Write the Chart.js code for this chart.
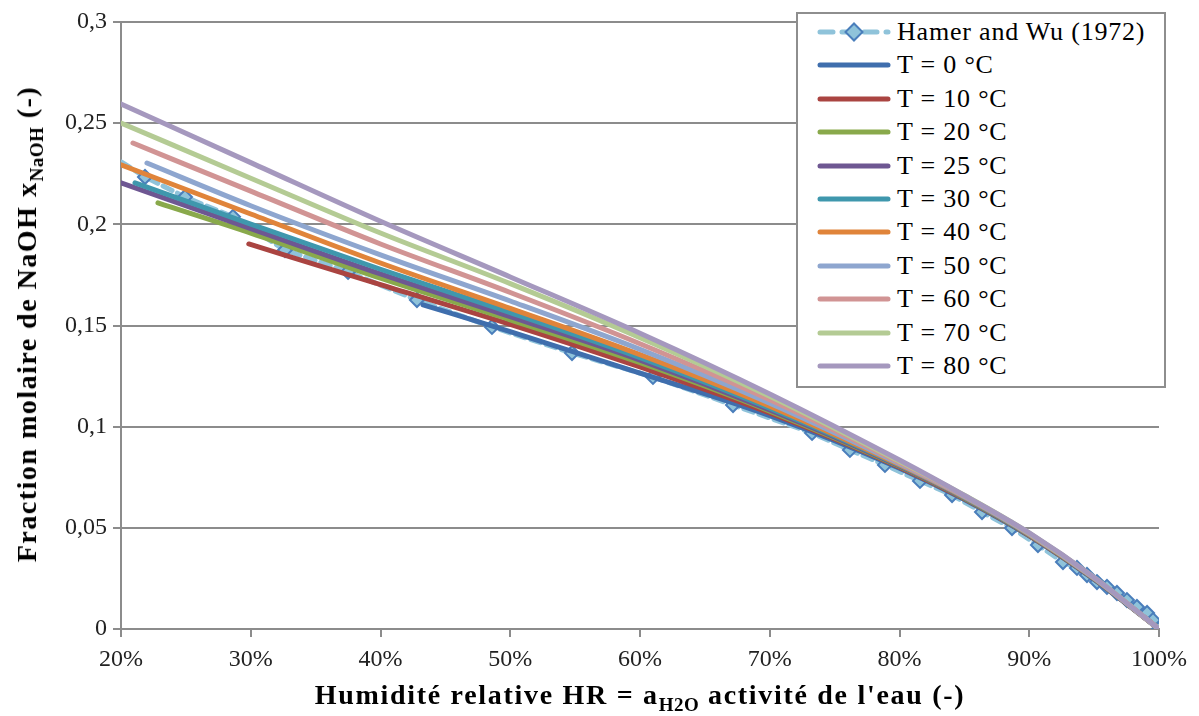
<!DOCTYPE html>
<html>
<head>
<meta charset="utf-8">
<script src="https://cdn.jsdelivr.net/npm/chart.js@4.4.1/dist/chart.umd.min.js"></script>
<style>
  html, body { margin: 0; padding: 0; background: #fff; }
  #wrap { position: relative; width: 1199px; height: 716px; }
  #chart { position: absolute; left: 0; top: 0; }
  .axis-title { position: absolute; font-family: "Liberation Serif", "DejaVu Serif", serif; font-weight: bold; font-size: 28px; color: #000; white-space: nowrap; }
  .axis-title sub { font-size: 19px; vertical-align: -7px; line-height: 0; letter-spacing: 0.5px; }
  #xtitle { left: 640px; top: 679px; transform: translateX(-50%); letter-spacing: 1.7px; }
  #ytitle { left: 27px; top: 324px; transform: translate(-50%, -50%) rotate(-90deg); letter-spacing: 1.5px; }
  #legend { position: absolute; left: 796px; top: 12px; width: 366px; height: 372px; border: 2px solid #8e8e8e; background: #fff;
            font-family: "Liberation Serif", "DejaVu Serif", serif; font-size: 26px; letter-spacing: 0.8px; color: #000; }
  #legend .row { position: absolute; left: 0; height: 30px; display: flex; align-items: center; white-space: nowrap; }
  #legend svg { margin-left: 19px; margin-right: 6px; }
</style>
</head>
<body>
<div id="wrap">
  <canvas id="chart" width="1199" height="716"></canvas>
  <div id="ytitle" class="axis-title">Fraction molaire de NaOH x<sub>NaOH</sub> (-)</div>
  <div id="xtitle" class="axis-title">Humidité relative HR = a<sub>H2O</sub> activité de l'eau (-)</div>
  <div id="legend"></div>
</div>
<script>
// Hamer and Wu (1972), 25 °C
const hamerX = [0.19, 0.2185, 0.2493, 0.2863, 0.3264, 0.375, 0.4281, 0.4859, 0.5476, 0.61, 0.6717, 0.7326, 0.7618, 0.7888, 0.8158, 0.8405, 0.8636, 0.8867, 0.9067, 0.926, 0.9368, 0.9445, 0.9522, 0.9599, 0.9676, 0.9753, 0.983, 0.9908, 0.9954, 1.0];
const hamerY = [0.235, 0.2234, 0.2135, 0.2037, 0.1873, 0.1765, 0.1626, 0.1493, 0.1364, 0.1246, 0.1107, 0.0969, 0.0885, 0.0811, 0.0732, 0.0662, 0.0578, 0.0499, 0.0415, 0.0331, 0.0302, 0.0267, 0.0232, 0.0208, 0.0178, 0.0143, 0.0109, 0.0079, 0.0044, 0];

// model curves (water activity -> mole fraction)
const t0X = [0.4328, 0.5, 0.6, 0.7, 0.8, 0.85, 0.9, 0.95, 1.0];
const t0Y = [0.1602, 0.147, 0.1265, 0.1055, 0.0795, 0.064, 0.046, 0.0245, 0];
const t10X = [0.2985, 0.4, 0.5, 0.6, 0.7, 0.8, 0.85, 0.9, 0.95, 1.0];
const t10Y = [0.1903, 0.1702, 0.1506, 0.1295, 0.1068, 0.08, 0.0643, 0.0462, 0.0247, 0];
const t20X = [0.2285, 0.3, 0.4, 0.5, 0.6, 0.7, 0.8, 0.85, 0.9, 0.95, 1.0];
const t20Y = [0.2106, 0.1957, 0.1734, 0.1528, 0.1316, 0.1077, 0.0803, 0.0646, 0.0464, 0.0248, 0];
const t25X = [0.2, 0.3, 0.4, 0.5, 0.6, 0.7, 0.8, 0.85, 0.9, 0.95, 1.0];
const t25Y = [0.2205, 0.1979, 0.1755, 0.1544, 0.1329, 0.1083, 0.0806, 0.0648, 0.0465, 0.0249, 0];
const t30X = [0.2108, 0.3, 0.4, 0.5, 0.6, 0.7, 0.8, 0.85, 0.9, 0.95, 1.0];
const t30Y = [0.2205, 0.2001, 0.1778, 0.1564, 0.1341, 0.1091, 0.0809, 0.065, 0.0466, 0.025, 0];
const t40X = [0.2, 0.3, 0.4, 0.5, 0.6, 0.7, 0.8, 0.85, 0.9, 0.95, 1.0];
const t40Y = [0.2294, 0.2051, 0.1809, 0.1585, 0.1356, 0.1101, 0.0812, 0.0652, 0.0468, 0.0251, 0];
const t50X = [0.22, 0.3, 0.4, 0.5, 0.6, 0.7, 0.8, 0.85, 0.9, 0.95, 1.0];
const t50Y = [0.2303, 0.2092, 0.1849, 0.1621, 0.1382, 0.1116, 0.0817, 0.0655, 0.047, 0.0252, 0];
const t60X = [0.2092, 0.3, 0.4, 0.5, 0.6, 0.7, 0.8, 0.85, 0.9, 0.95, 1.0];
const t60Y = [0.2402, 0.2164, 0.1903, 0.1663, 0.141, 0.1133, 0.0823, 0.0658, 0.0472, 0.0253, 0];
const t70X = [0.2, 0.3, 0.4, 0.5, 0.6, 0.7, 0.8, 0.85, 0.9, 0.95, 1.0];
const t70Y = [0.2501, 0.2228, 0.1957, 0.1707, 0.144, 0.115, 0.0829, 0.0661, 0.0474, 0.0254, 0];
const t80X = [0.2, 0.3, 0.4, 0.5, 0.6, 0.7, 0.8, 0.85, 0.9, 0.95, 1.0];
const t80Y = [0.2595, 0.2305, 0.2015, 0.174, 0.1462, 0.1162, 0.0835, 0.066, 0.0475, 0.0255, 0];

const yTicks = [0, 0.05, 0.1, 0.15, 0.2, 0.25, 0.3];
const xTicks = [0.2, 0.3, 0.4, 0.5, 0.6, 0.7, 0.8, 0.9, 1.0];

const series = [
    { label: "T = 0 °C", xs: t0X, ys: t0Y, color: "#3f6ead" },
    { label: "T = 10 °C", xs: t10X, ys: t10Y, color: "#aa4441" },
    { label: "T = 20 °C", xs: t20X, ys: t20Y, color: "#89a94b" },
    { label: "T = 25 °C", xs: t25X, ys: t25Y, color: "#6e5792" },
    { label: "T = 30 °C", xs: t30X, ys: t30Y, color: "#3f97ad" },
    { label: "T = 40 °C", xs: t40X, ys: t40Y, color: "#e0843a" },
    { label: "T = 50 °C", xs: t50X, ys: t50Y, color: "#8ea6cf" },
    { label: "T = 60 °C", xs: t60X, ys: t60Y, color: "#d19494" },
    { label: "T = 70 °C", xs: t70X, ys: t70Y, color: "#b4cb94" },
    { label: "T = 80 °C", xs: t80X, ys: t80Y, color: "#a598be" }
];

const toPoints = (xs, ys) => xs.map((x, i) => ({ x: x, y: ys[i] }));

const datasets = [{
    label: "Hamer and Wu (1972)",
    data: toPoints(hamerX, hamerY),
    showLine: true,
    borderColor: "#8fc3da",
    borderWidth: 5,
    borderDash: [10, 6],
    borderCapStyle: "round",
    pointStyle: "rectRot",
    pointRadius: 7,
    pointBackgroundColor: "#8fc3da",
    pointBorderColor: "#4a7ebb",
    pointBorderWidth: 2,
    order: series.length + 1
}];

series.forEach((s, i) => {
    datasets.push({
        label: s.label,
        data: toPoints(s.xs, s.ys),
        showLine: true,
        borderColor: s.color,
        borderWidth: 5,
        borderCapStyle: "round",
        cubicInterpolationMode: "monotone",
        pointRadius: 0,
        order: series.length - i
    });
});

const serif = "Liberation Serif";

function drawChart() {
    const chart = new Chart(document.getElementById("chart"), {
        type: "scatter",
        data: { datasets },
        options: {
            responsive: false,
            animation: false,
            layout: { padding: { left: 0, top: 22, right: 40, bottom: 0 } },
            plugins: {
                legend: { display: false },
                tooltip: { enabled: false }
            },
            scales: {
                x: {
                    type: "linear",
                    min: 0.2,
                    max: 1.0,
                    afterBuildTicks: (scale) => { scale.ticks = xTicks.map((v) => ({ value: v })); },
                    afterFit: (scale) => { scale.height = 87; },
                    grid: { drawOnChartArea: false, drawTicks: true, tickLength: 8, color: "#8c8c8c", lineWidth: 2 },
                    border: { color: "#8c8c8c", width: 2 },
                    ticks: {
                        font: { family: serif, size: 24 },
                        color: "#222",
                        padding: 8,
                        maxRotation: 0,
                        callback: (v) => Math.round(v * 100) + "%"
                    }
                },
                y: {
                    type: "linear",
                    min: 0,
                    max: 0.3,
                    afterBuildTicks: (scale) => { scale.ticks = yTicks.map((v) => ({ value: v })); },
                    afterFit: (scale) => { scale.width = 121; },
                    grid: { color: "#8c8c8c", lineWidth: 2, tickLength: 8 },
                    border: { color: "#8c8c8c", width: 2 },
                    ticks: {
                        font: { family: serif, size: 24 },
                        color: "#222",
                        padding: 6,
                        callback: (v) => String(Number(v.toFixed(2))).replace(".", ",")
                    }
                }
            }
        }
    });

    // legend box
    const legendEl = document.getElementById("legend");
    chart.data.datasets.forEach((ds, i) => {
        const row = document.createElement("div");
        row.className = "row";
        row.style.top = (3 + i * 33.4) + "px";
        let sample;
        if (i === 0) {
            sample = '<svg width="74" height="20"><line x1="3" y1="10" x2="71" y2="10" stroke="' + ds.borderColor +
                '" stroke-width="5" stroke-linecap="round" stroke-dasharray="13 9"/>' +
                '<rect x="31" y="4" width="12" height="12" transform="rotate(45 37 10)" fill="' + ds.pointBackgroundColor +
                '" stroke="' + ds.pointBorderColor + '" stroke-width="2"/></svg>';
        } else {
            sample = '<svg width="74" height="20"><line x1="3" y1="10" x2="71" y2="10" stroke="' + ds.borderColor +
                '" stroke-width="5" stroke-linecap="round"/></svg>';
        }
        row.innerHTML = sample + "<span>" + ds.label + "</span>";
        legendEl.appendChild(row);
    });
}

document.fonts.load("24px 'Liberation Serif'").then(drawChart, drawChart);
</script>
</body>
</html>
